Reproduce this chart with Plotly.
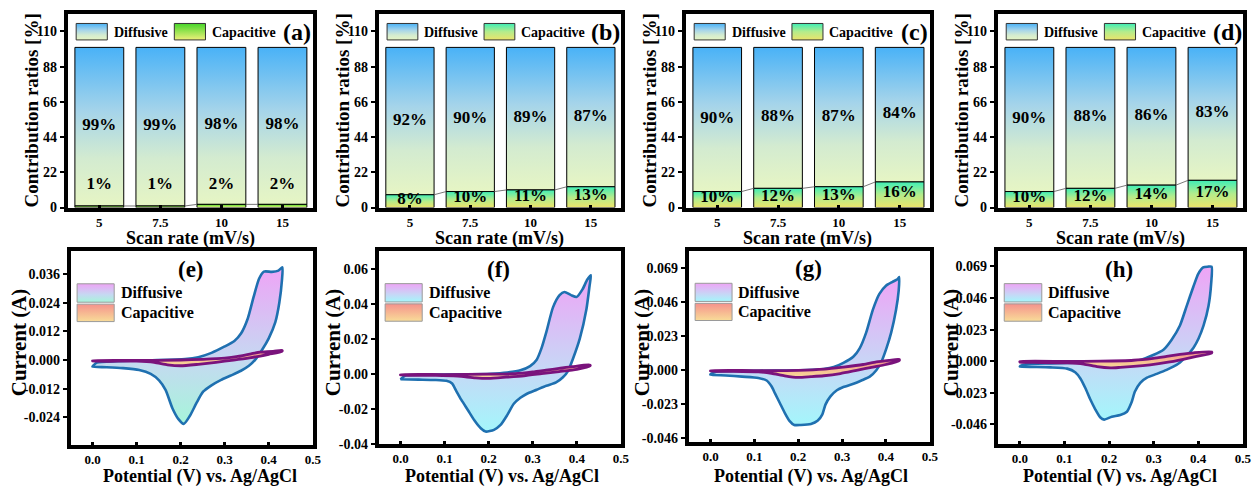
import plotly.graph_objects as go

W, H = 1258, 492
SERIF = "Liberation Serif, Times New Roman, serif"

# ---------------- data ----------------
scan_rates = ["5", "7.5", "10", "15"]
diffusive_a = [99, 99, 98, 98]
capacitive_a = [1, 1, 2, 2]
diffusive_b = [92, 90, 89, 87]
capacitive_b = [8, 10, 11, 13]
diffusive_c = [90, 88, 87, 84]
capacitive_c = [10, 12, 13, 16]
diffusive_d = [90, 88, 86, 83]
capacitive_d = [10, 12, 14, 17]

# CV loops: potential (V) and current (A), forward scan followed by reverse scan
e_diff_V = [0, 0.0097, 0.054, 0.129, 0.21, 0.24, 0.27, 0.30, 0.322, 0.337, 0.352, 0.366, 0.378, 0.389, 0.407, 0.422, 0.431,
            0.43, 0.424, 0.415, 0.40, 0.385, 0.37, 0.355, 0.337, 0.314, 0.292, 0.27, 0.251, 0.236, 0.221, 0.207, 0.195,
            0.181, 0.166, 0.151, 0.132, 0.106, 0.069, 0.032, 0.0]
e_diff_I = [-0.0027, -0.0011, -0.0005, -0.0001, 0.0004, 0.0012, 0.0030, 0.0057, 0.0080, 0.0111, 0.0172, 0.0267, 0.0341,
            0.0371, 0.0370, 0.0375, 0.0389,
            0.0335, 0.0240, 0.0159, 0.0091, 0.0043, 0.0003, -0.0024, -0.0045, -0.0065, -0.0083, -0.0106, -0.0133, -0.0180,
            -0.0234, -0.0268, -0.0248, -0.0201, -0.0126, -0.0085, -0.0058, -0.0042, -0.0034, -0.0030, -0.0028]
e_cap_V = [0, 0.1, 0.2, 0.25, 0.3, 0.33, 0.36, 0.38, 0.41, 0.43,
           0.43, 0.40, 0.36, 0.32, 0.28, 0.24, 0.20, 0.17, 0.14, 0.10, 0.0]
e_cap_I = [-0.0003, -0.0002, 0.0000, 0.0003, 0.0008, 0.0015, 0.0026, 0.0033, 0.0036, 0.0041,
           0.0036, 0.0024, 0.0010, 0.0000, -0.0010, -0.0018, -0.0024, -0.0020, -0.0010, -0.0005, -0.0004]

f_diff_V = [0, 0.011, 0.056, 0.130, 0.205, 0.242, 0.272, 0.294, 0.309, 0.320, 0.331, 0.346, 0.361, 0.372, 0.387, 0.400,
            0.413, 0.424, 0.432,
            0.429, 0.422, 0.407, 0.392, 0.380, 0.368, 0.353, 0.331, 0.309, 0.286, 0.272, 0.257, 0.242, 0.227, 0.212,
            0.193, 0.182, 0.167, 0.153, 0.138, 0.126, 0.117, 0.104, 0.078, 0.041, 0]
f_diff_I = [-0.0032, -0.0011, -0.0006, -0.0004, 0.0, 0.0007, 0.0019, 0.0043, 0.0080, 0.0146, 0.0239, 0.0379, 0.0449,
            0.0467, 0.0449, 0.0439, 0.0482, 0.0538, 0.0563,
            0.0501, 0.0370, 0.0202, 0.0090, 0.0015, -0.0022, -0.0050, -0.0069, -0.0092, -0.0116, -0.0138, -0.0172,
            -0.0237, -0.0293, -0.0321, -0.0331, -0.0312, -0.0265, -0.0209, -0.0150, -0.0097, -0.0056, -0.0041,
            -0.0036, -0.0034, -0.0032]
f_cap_V = [0, 0.1, 0.2, 0.26, 0.30, 0.33, 0.36, 0.39, 0.43,
           0.43, 0.40, 0.36, 0.32, 0.28, 0.24, 0.20, 0.17, 0.13, 0.08, 0.0]
f_cap_I = [-0.0006, -0.0005, -0.0003, 0.0000, 0.0010, 0.0020, 0.0030, 0.0040, 0.0050,
           0.0044, 0.0025, 0.0012, 0.0000, -0.0012, -0.0020, -0.0027, -0.0024, -0.0014, -0.0009, -0.0008]

g_diff_V = [0, 0.013, 0.072, 0.147, 0.221, 0.258, 0.281, 0.303, 0.326, 0.340, 0.355, 0.370, 0.385, 0.400, 0.415, 0.426,
            0.430,
            0.429, 0.423, 0.412, 0.401, 0.390, 0.378, 0.363, 0.344, 0.326, 0.303, 0.288, 0.273, 0.262, 0.255, 0.244,
            0.229, 0.206, 0.191, 0.180, 0.169, 0.158, 0.147, 0.139, 0.128, 0.109, 0.072, 0.035, 0]
g_diff_I = [-0.0026, -0.0009, -0.0004, -0.0002, 0.0002, 0.0009, 0.0022, 0.0050, 0.0093, 0.0148, 0.0256, 0.0408, 0.0516,
            0.0571, 0.0597, 0.0614, 0.0629,
            0.0538, 0.0408, 0.0256, 0.0148, 0.0061, 0.0, -0.0043, -0.0069, -0.0091, -0.0113, -0.0135, -0.0178, -0.0232,
            -0.0297, -0.0341, -0.0362, -0.0369, -0.0369, -0.0341, -0.0286, -0.0221, -0.0156, -0.0108, -0.0069,
            -0.0052, -0.0043, -0.0035, -0.0030]
g_cap_V = [0, 0.1, 0.2, 0.26, 0.303, 0.348, 0.378, 0.407, 0.43,
           0.43, 0.40, 0.37, 0.333, 0.296, 0.258, 0.229, 0.199, 0.169, 0.139, 0.109, 0.035, 0]
g_cap_I = [-0.0003, -0.0002, 0.0, 0.0008, 0.0022, 0.0039, 0.0056, 0.0067, 0.0074,
           0.0065, 0.0039, 0.0022, 0.0, -0.0022, -0.0037, -0.0043, -0.0048, -0.0037, -0.0020, -0.0011, -0.0007, -0.0005]

h_diff_V = [0, 0.013, 0.069, 0.143, 0.218, 0.270, 0.299, 0.322, 0.340, 0.359, 0.374, 0.389, 0.400, 0.411, 0.422, 0.430,
            0.429, 0.423, 0.412, 0.401, 0.389, 0.374, 0.359, 0.344, 0.329, 0.307, 0.285, 0.270, 0.258, 0.250, 0.240,
            0.225, 0.206, 0.189, 0.180, 0.169, 0.158, 0.147, 0.136, 0.124, 0.106, 0.069, 0.031, 0]
h_diff_I = [-0.0038, -0.0023, -0.0016, -0.0009, -0.0005, 0.0009, 0.0045, 0.0084, 0.0155, 0.0260, 0.0401, 0.0542, 0.0636,
            0.0683, 0.0688, 0.0688,
            0.0566, 0.0401, 0.0260, 0.0167, 0.0096, 0.0038, -0.0009, -0.0040, -0.0063, -0.0092, -0.0120, -0.0157,
            -0.0221, -0.0303, -0.0368, -0.0392, -0.0404, -0.0425, -0.0408, -0.0350, -0.0279, -0.0197, -0.0127,
            -0.0080, -0.0054, -0.0045, -0.0042, -0.0040]
h_cap_V = [0, 0.106, 0.180, 0.255, 0.299, 0.329, 0.359, 0.389, 0.43,
           0.43, 0.396, 0.366, 0.329, 0.292, 0.255, 0.225, 0.203, 0.173, 0.143, 0.106, 0.031, 0]
h_cap_I = [-0.0002, -0.0002, 0.0, 0.0007, 0.0021, 0.0035, 0.0049, 0.0061, 0.0068,
           0.0059, 0.0035, 0.0014, -0.0009, -0.0026, -0.0038, -0.0045, -0.0049, -0.0040, -0.0021, -0.0012, -0.0009, -0.0007]

cv_xticks = [0.0, 0.1, 0.2, 0.3, 0.4, 0.5]
e_yticks = [-0.024, -0.012, 0.0, 0.012, 0.024, 0.036]
f_yticks = [-0.04, -0.02, 0.0, 0.02, 0.04, 0.06]
g_yticks = [-0.046, -0.023, 0.0, 0.023, 0.046, 0.069]
h_yticks = [-0.046, -0.023, 0.0, 0.023, 0.046, 0.069]
bar_yticks = [0, 22, 44, 66, 88, 110]

# ---------------- styling ----------------
DIFF_CS = [[0, '#e6f5c4'], [0.3, '#d3ebd0'], [0.6, '#a5d4ea'], [1, '#49b2f7']]
CAP_CS_GREEN = [[0, '#eef07a'], [1, '#46d62a']]
CAP_CS = [[0, '#ece46a'], [0.5, '#b4ec8c'], [1, '#3eeeb6']]
CV_DIFF_CS_E = [[0, '#a6f5da'], [0.42, '#c6d8f2'], [1, '#eea4f6']]
CV_DIFF_CS = [[0, '#a4f6fb'], [0.42, '#c8d6f6'], [1, '#eea4f6']]
CV_CAP_CS = [[0, '#f8dc98'], [1, '#f5928c']]
BLUE = '#1f70b0'
PURPLE = '#7a137c'

top_frames = [(68, 315), (381, 625), (690, 936), (1004, 1251)]
bot_frames = [(71, 315), (381, 625), (693, 936), (1004, 1251)]
top_y = (14, 211)
bot_y = [(255, 452), (255, 451), (255, 449), (255, 451)]

BAR_XR = [-0.52, 3.5]
BAR_YR = [0, 121]
cv_yranges = [[-0.0355, 0.0458], [-0.04, 0.0702], [-0.0482, 0.0806], [-0.06, 0.0803]]
CV_XR = [-0.05, 0.5005]

fig = go.Figure()
layout = {}


def fr(rng, f):
    return rng[0] + f * (rng[1] - rng[0])


def axis_common(**kw):
    d = dict(showline=True, mirror=True, linewidth=3.5, linecolor='black', showgrid=False, zeroline=False,
             tickfont=dict(family=SERIF, size=14, color='black', weight='bold'), tickcolor='black', fixedrange=True)
    d.update(kw)
    return d


def poly(xs, ys, xa, ya, cs, lc, lw, shape='linear'):
    fig.add_trace(go.Scatter(x=xs, y=ys, mode='lines', fill='toself',
                             fillgradient=dict(type='vertical', colorscale=cs),
                             line=dict(color=lc, width=lw, shape=shape, smoothing=0.6),
                             xaxis=xa, yaxis=ya, hoverinfo='skip', showlegend=False))


def ann(text, x, y, xref='paper', yref='paper', size=14, angle=0, xanchor='center'):
    fig.add_annotation(text=f"<b>{text}</b>", x=x, y=y, xref=xref, yref=yref, showarrow=False, textangle=angle,
                       xanchor=xanchor, yanchor='middle', font=dict(family=SERIF, size=size, color='black'))


# ---------------- top row: contribution bars ----------------
top_panels = [("a", diffusive_a, capacitive_a, CAP_CS_GREEN),
              ("b", diffusive_b, capacitive_b, CAP_CS),
              ("c", diffusive_c, capacitive_c, CAP_CS),
              ("d", diffusive_d, capacitive_d, CAP_CS)]

for k, (lab, diff, cap, ccs) in enumerate(top_panels):
    n = k + 1
    xa, ya = ('x' if n == 1 else f'x{n}'), ('y' if n == 1 else f'y{n}')
    l, r = top_frames[k]
    t, b = top_y
    layout['xaxis' if n == 1 else f'xaxis{n}'] = axis_common(
        domain=[l / W, r / W], range=BAR_XR, anchor=ya, tickvals=list(range(len(scan_rates))),
        ticktext=scan_rates, ticks='inside', ticklen=3, tickwidth=3,
        tickfont=dict(family=SERIF, size=13, color='black', weight='bold'))
    layout['yaxis' if n == 1 else f'yaxis{n}'] = axis_common(
        domain=[1 - b / H, 1 - t / H], range=BAR_YR, anchor=xa, tickvals=bar_yticks,
        ticktext=[str(v) for v in bar_yticks], ticks='outside', ticklen=4, tickwidth=2)
    bw = 0.4
    for i in range(len(scan_rates)):
        c, d = cap[i], diff[i]
        poly([i - bw, i + bw, i + bw, i - bw, i - bw], [c, c, c + d, c + d, c], xa, ya, DIFF_CS, 'black', 1)
        poly([i - bw, i + bw, i + bw, i - bw, i - bw], [0, 0, c, c, 0], xa, ya, ccs, 'black', 1)
    # connecting lines
    lx, ly = [], []
    for i in range(len(scan_rates) - 1):
        lx += [i + bw, i + 1 - bw, None]
        ly += [cap[i], cap[i + 1], None]
    fig.add_trace(go.Scatter(x=lx, y=ly, mode='lines', line=dict(color='#555555', width=0.8),
                             xaxis=xa, yaxis=ya, hoverinfo='skip', showlegend=False))
    # percentage labels
    fig.add_trace(go.Scatter(x=list(range(len(scan_rates))), y=[(c + 100) / 2 + 0.5 for c in cap], mode='text',
                             text=[f"<b>{d}%</b>" for d in diff],
                             textfont=dict(family=SERIF, size=17, color='black'),
                             xaxis=xa, yaxis=ya, hoverinfo='skip', showlegend=False))
    fig.add_trace(go.Scatter(x=list(range(len(scan_rates))),
                             y=[(c / 2 + 1) if c >= 5 else 14.5 for c in cap], mode='text',
                             text=[f"<b>{c}%</b>" for c in cap],
                             textfont=dict(family=SERIF, size=17, color='black'),
                             xaxis=xa, yaxis=ya, hoverinfo='skip', showlegend=False))
    # legend
    y0, y1 = fr(BAR_YR, 0.865), fr(BAR_YR, 0.95)
    for (s0, s1), cs in [((0.035, 0.162), DIFF_CS), ((0.435, 0.562), ccs)]:
        x0, x1 = fr(BAR_XR, s0), fr(BAR_XR, s1)
        poly([x0, x1, x1, x0, x0], [y0, y0, y1, y1, y0], xa, ya, cs, '#333333', 1)
    ann("Diffusive", 0.18, 0.905, f'{xa} domain', f'{ya} domain', size=14, xanchor='left')
    ann("Capacitive", 0.58, 0.905, f'{xa} domain', f'{ya} domain', size=14, xanchor='left')
    ann(f"({lab})", 0.935, 0.905, f'{xa} domain', f'{ya} domain', size=24)
    # axis titles
    ann("Scan rate (mV/s)", (l + r) / 2 / W, 1 - 242 / H, size=18)
    ann("Contribution ratios [%]", (l - 36) / W, 1 - (t + b) / 2 / H, size=19, angle=-90)

# ---------------- bottom row: CV curves ----------------
cv_panels = [("e", e_diff_V, e_diff_I, e_cap_V, e_cap_I, e_yticks, CV_DIFF_CS_E, 3, -52, 8),
             ("f", f_diff_V, f_diff_I, f_cap_V, f_cap_I, f_yticks, CV_DIFF_CS, 2, -46, 2),
             ("g", g_diff_V, g_diff_I, g_cap_V, g_cap_I, g_yticks, CV_DIFF_CS, 3, -47, 2),
             ("h", h_diff_V, h_diff_I, h_cap_V, h_cap_I, h_yticks, CV_DIFF_CS, 3, -47, 0)]

for k, (lab, dV, dI, cV, cI, yt, dcs, dec, toff, xoff) in enumerate(cv_panels):
    n = k + 5
    xa, ya = f'x{n}', f'y{n}'
    l, r = bot_frames[k]
    t, b = bot_y[k]
    yr = cv_yranges[k]
    layout[f'xaxis{n}'] = axis_common(
        domain=[l / W, r / W], range=CV_XR, anchor=ya, tickvals=cv_xticks,
        ticktext=[f"{v:.1f}" for v in cv_xticks], ticks='inside', ticklen=3, tickwidth=3,
        tickfont=dict(family=SERIF, size=13, color='black', weight='bold'))
    layout[f'yaxis{n}'] = axis_common(
        domain=[1 - b / H, 1 - t / H], range=yr, anchor=xa, tickvals=yt,
        ticktext=[f"{v:.{dec}f}" for v in yt], ticks='outside', ticklen=4, tickwidth=2)
    poly(dV + [dV[0]], dI + [dI[0]], xa, ya, dcs, BLUE, 2.6, 'spline')
    poly(cV + [cV[0]], cI + [cI[0]], xa, ya, CV_CAP_CS, PURPLE, 2.8, 'spline')
    # legend
    sx0, sx1 = fr(CV_XR, 0.027), fr(CV_XR, 0.18)
    for (s0, s1), cs in [((0.735, 0.83), dcs), ((0.635, 0.725), CV_CAP_CS)]:
        y0, y1 = fr(yr, s0), fr(yr, s1)
        poly([sx0, sx1, sx1, sx0, sx0], [y0, y0, y1, y1, y0], xa, ya, cs, '#9a9a9a', 1)
    ann("Diffusive", 0.198, 0.783, f'{xa} domain', f'{ya} domain', size=16, xanchor='left')
    ann("Capacitive", 0.198, 0.68, f'{xa} domain', f'{ya} domain', size=16, xanchor='left')
    ann(f"({lab})", 0.495, 0.905, f'{xa} domain', f'{ya} domain', size=23)
    ann("Potential (V) vs. Ag/AgCl", ((l + r) / 2 + xoff) / W, 1 - 484 / H, size=18)
    ann("Current (A)", (l + toff) / W, 1 - 348 / H, size=21, angle=-90)

fig.update_layout(width=W, height=H, margin=dict(l=0, r=0, t=0, b=0), autosize=False,
                  paper_bgcolor='white', plot_bgcolor='white', showlegend=False, **layout)

fig.write_html("out.html")
